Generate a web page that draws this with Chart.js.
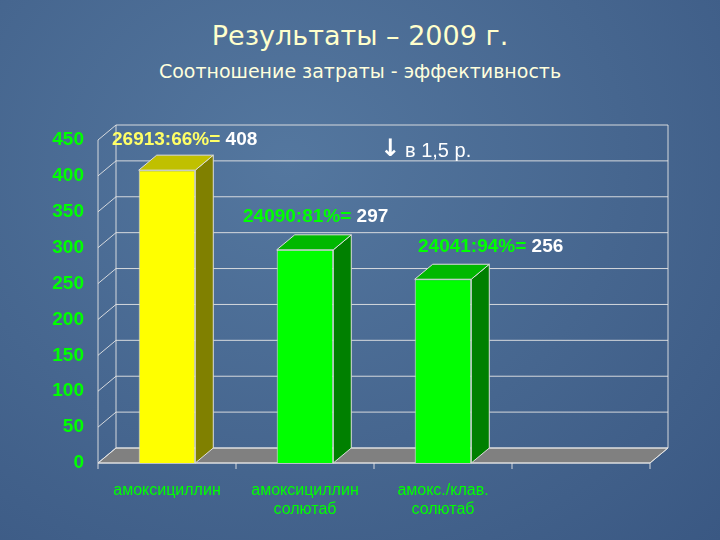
<!DOCTYPE html><html><head><meta charset="utf-8">
<script src="https://cdn.jsdelivr.net/npm/chart.js@4"></script>
<style>
html,body{margin:0;width:720px;height:540px;overflow:hidden}
body{background:radial-gradient(ellipse at 40% 30%,#54779f 0%,#46668f 55%,#3a5883 100%);font-family:"DejaVu Sans",sans-serif;position:relative}
#t{position:absolute;top:20px;width:100%;text-align:center;color:#ffffcc;font-size:27px}
#s{position:absolute;top:60px;width:100%;text-align:center;color:#ffffdd;font-size:19px}
canvas{position:absolute;left:0;top:0}
</style></head><body>
<div id="t">Результаты – 2009 г.</div>
<div id="s">Соотношение затраты - эффективность</div>
<canvas id="c" width="720" height="540"></canvas>
<script>
const categories=[["амоксициллин"],["амоксициллин","солютаб"],["амокс./клав.","солютаб"],[""]];
const values=[408,297,256,null];
const frontColors=["#ffff00","#00ff00","#00ff00","#00ff00"];
const sideColors=["#808000","#008000","#008000","#008000"];
const topColors=["#c0c000","#00b800","#00b800","#00b800"];
const notePrefix=["26913:66%= ","24090:81%= ","24041:94%= "];
const noteValue=["408","297","256"];
const noteColor=["#ffff66","#00ff00","#00ff00"];
const DX=18,DY=-15;
const threeD={id:'threeD',
beforeDatasetsDraw(ch){
 const {ctx,chartArea:a,scales:{x,y}}=ch;
 ctx.save();
 const y0=y.getPixelForValue(0);
 ctx.fillStyle='#808080';ctx.strokeStyle='#ddd';ctx.lineWidth=1;
 ctx.beginPath();ctx.moveTo(a.left,y0);ctx.lineTo(a.left+DX,y0+DY);ctx.lineTo(a.right+DX,y0+DY);ctx.lineTo(a.right,y0);ctx.closePath();ctx.fill();ctx.stroke();
 ctx.strokeStyle='rgba(230,230,230,0.9)';
 y.ticks.forEach(t=>{const p=y.getPixelForValue(t.value);
  ctx.beginPath();ctx.moveTo(a.left,p);ctx.lineTo(a.left+DX,p+DY);ctx.lineTo(a.right+DX,p+DY);ctx.stroke();});
 ctx.beginPath();ctx.moveTo(a.left+DX,y.getPixelForValue(450)+DY);ctx.lineTo(a.left+DX,y0+DY);ctx.stroke();
 ctx.beginPath();ctx.moveTo(a.right+DX,y.getPixelForValue(450)+DY);ctx.lineTo(a.right+DX,y0+DY);ctx.lineTo(a.right,y0);ctx.stroke();
 ctx.beginPath();ctx.moveTo(a.left,y.getPixelForValue(450));ctx.lineTo(a.left,y0);ctx.lineTo(a.right,y0);ctx.stroke();
 x.ticks.forEach((t,i)=>{const p=a.left+(a.right-a.left)*i/categories.length;ctx.beginPath();ctx.moveTo(p,y0);ctx.lineTo(p,y0+6);ctx.stroke();});
 ctx.beginPath();ctx.moveTo(a.right,y0);ctx.lineTo(a.right,y0+6);ctx.stroke();
 ctx.restore();},
afterDatasetsDraw(ch){
 const {ctx,scales:{y}}=ch;
 ctx.save();
 ch.getDatasetMeta(0).data.forEach((b,i)=>{ if(values[i]==null)return;
  const l=b.x-b.width/2,r=b.x+b.width/2,t=b.y,bt=b.base;
  ctx.strokeStyle='#ddd';ctx.lineWidth=1;
  ctx.fillStyle=sideColors[i];ctx.beginPath();ctx.moveTo(r,t);ctx.lineTo(r+DX,t+DY);ctx.lineTo(r+DX,bt+DY);ctx.lineTo(r,bt);ctx.closePath();ctx.fill();ctx.stroke();
  ctx.fillStyle=topColors[i];ctx.beginPath();ctx.moveTo(l,t);ctx.lineTo(l+DX,t+DY);ctx.lineTo(r+DX,t+DY);ctx.lineTo(r,t);ctx.closePath();ctx.fill();ctx.stroke();
 });
 ctx.font='bold 19px "Liberation Sans"';ctx.textBaseline='middle';
 const pos=[[112,140],[243,217],[418,247]];
 notePrefix.forEach((p,i)=>{ctx.fillStyle=noteColor[i];ctx.fillText(p,pos[i][0],pos[i][1]);
  const w=ctx.measureText(p).width;ctx.fillStyle='#fff';ctx.fillText(noteValue[i],pos[i][0]+w,pos[i][1]);});
 ctx.fillStyle='#fff';ctx.font='bold 24px "DejaVu Sans"';ctx.fillText('↓',380,150);
 ctx.font='20px "Liberation Sans"';ctx.fillText('в 1,5 р.',405,151);
 ctx.restore();}};
new Chart(document.getElementById('c'),{type:'bar',
 data:{labels:categories,datasets:[{data:values,backgroundColor:frontColors,borderColor:'#ddd',borderWidth:1,categoryPercentage:1,barPercentage:0.41}]},
 options:{responsive:false,animation:false,layout:{padding:{top:140,right:70,left:0,bottom:0}},
  plugins:{legend:{display:false},tooltip:{enabled:false}},
  scales:{
   y:{min:0,max:450,ticks:{stepSize:50,color:'#00ff00',font:{family:'"Liberation Sans Narrow","Liberation Sans"',size:19,weight:'bold'},padding:6},grid:{display:false},border:{display:false},afterFit(s){s.width=98;}},
   x:{ticks:{color:'#00ff00',font:{family:'"Liberation Sans"',size:16},padding:10,maxRotation:0,autoSkip:false},grid:{display:false},border:{display:false},afterFit(s){s.height=77;}}
  }},plugins:[threeD]});
</script></body></html>
